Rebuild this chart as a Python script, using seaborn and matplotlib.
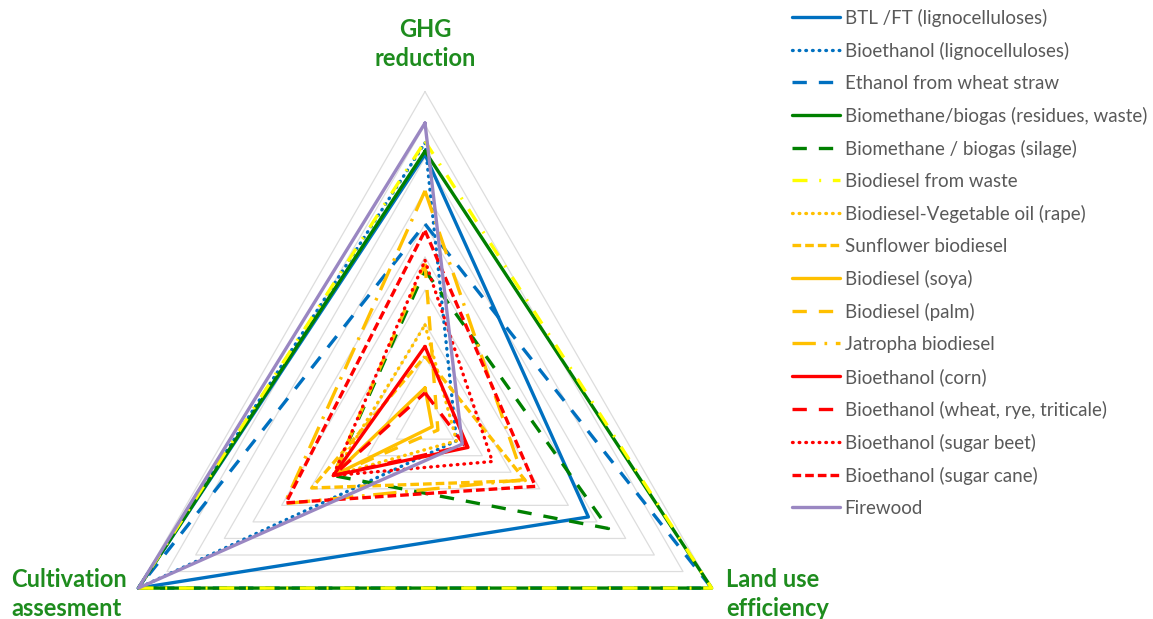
import numpy as np
import pandas as pd
import matplotlib
matplotlib.use("Agg")
import matplotlib.pyplot as plt
import seaborn as sns

# axes of the radar (clockwise from top)
axis_labels = ["GHG\nreduction", "Land use\nefficiency", "Cultivation\nassesment"]

series_names = [
    "BTL /FT (lignocelluloses)",
    "Bioethanol (lignocelluloses)",
    "Ethanol from wheat straw",
    "Biomethane/biogas (residues, waste)",
    "Biomethane / biogas (silage)",
    "Biodiesel from waste",
    "Biodiesel-Vegetable oil (rape)",
    "Sunflower biodiesel",
    "Biodiesel (soya)",
    "Biodiesel (palm)",
    "Jatropha biodiesel",
    "Bioethanol (corn)",
    "Bioethanol (wheat, rye, triticale)",
    "Bioethanol (sugar beet)",
    "Bioethanol (sugar cane)",
    "Firewood",
]

# scores, scale 0-10
ghg_reduction = [8.1, 8.45, 6.0, 8.2, 4.6, 8.5, 2.95, 2.0, 1.05, 4.8, 7.0, 2.3, 0.9, 4.9, 5.8, 9.05]
land_use = [5.7, 1.1, 10, 10, 6.4, 10, 1.1, 3.5, 0.25, 0.45, 3.45, 1.5, 1.4, 2.35, 3.85, 1.3]
cultivation = [10, 10, 10, 10, 3.2, 10, 3.2, 3.95, 3.2, 3.2, 4.9, 3.2, 3.2, 3.2, 4.85, 10]

BLUE, GREEN, YEL, ORG, RED, PURP = "#0070C0", "#008000", "#FFFF00", "#FFC000", "#FF0000", "#9A87C2"
DOT = (0, (0.2, 1.8))
LONG = (0, (4.3, 3.6))
SHORT = (0, (2.6, 1.2))
DASHDOT = (0, (4.5, 3.5, 0.6, 3.5))
LONGDASHDOT = (0, (7, 2.6, 0.8, 2.6))
styles = [
    (BLUE, "-"), (BLUE, DOT), (BLUE, LONG),
    (GREEN, "-"), (GREEN, LONG),
    (YEL, DASHDOT), (ORG, DOT), (ORG, SHORT), (ORG, "-"), (ORG, LONG), (ORG, LONGDASHDOT),
    (RED, "-"), (RED, LONG), (RED, DOT), (RED, SHORT),
    (PURP, "-"),
]

theta = np.array([0, 2 * np.pi / 3, 4 * np.pi / 3, 2 * np.pi])

rows = []
for i, name in enumerate(series_names):
    vals = [ghg_reduction[i], land_use[i], cultivation[i], ghg_reduction[i]]
    for t, v in zip(theta, vals):
        rows.append({"series": name, "theta": t, "score": v})
df = pd.DataFrame(rows)

sns.set_style("white")
plt.rcParams["font.family"] = ["Lato", "DejaVu Sans"]

W, H = 1153, 619
fig = plt.figure(figsize=(W / 100, H / 100), dpi=100)
cx, cy, R = 425, 619 - 422.6, 331
ax = fig.add_axes([(cx - R) / W, (cy - R) / H, 2 * R / W, 2 * R / H], projection="polar")
ax.set_theta_offset(np.pi / 2)
ax.set_theta_direction(-1)
ax.set_ylim(0, 10)
ax.grid(False)
ax.set_xticks([])
ax.set_yticks([])
ax.spines["polar"].set_visible(False)
ax.patch.set_visible(False)

# triangular gridlines
for k in range(1, 11):
    ax.plot(theta, [k] * 4, color="#DDDDDD", lw=0.9, zorder=1, clip_on=False)

for i, name in enumerate(series_names):
    color, ls = styles[i]
    sub = df[df["series"] == name]
    sns.lineplot(data=sub, x="theta", y="score", ax=ax, sort=False, estimator=None,
                 color=color, linestyle=ls, lw=2.4, label=name, clip_on=False,
                 dash_capstyle="round" if ls == DOT else "butt", zorder=2 + i)

ax.set_xlabel("")
ax.set_ylabel("")

label_kw = dict(color="#1E8C1E", fontsize=17, fontweight="bold", linespacing=1.3)
fig.text(425 / W, 1 - 44 / H, axis_labels[0], ha="center", va="center", **label_kw)
fig.text(726 / W, 1 - 594 / H, axis_labels[1], ha="left", va="center", **label_kw)
fig.text(11 / W, 1 - 594 / H, axis_labels[2], ha="left", va="center", **label_kw)

ax.legend(loc="upper left", bbox_to_anchor=(784 / W, 1 - 1 / H), bbox_transform=fig.transFigure,
          frameon=False, fontsize=13.5, labelcolor="#595959", handlelength=2.56,
          handletextpad=0.27, labelspacing=0.8, borderaxespad=0)

fig.savefig("out.png", dpi=100)
